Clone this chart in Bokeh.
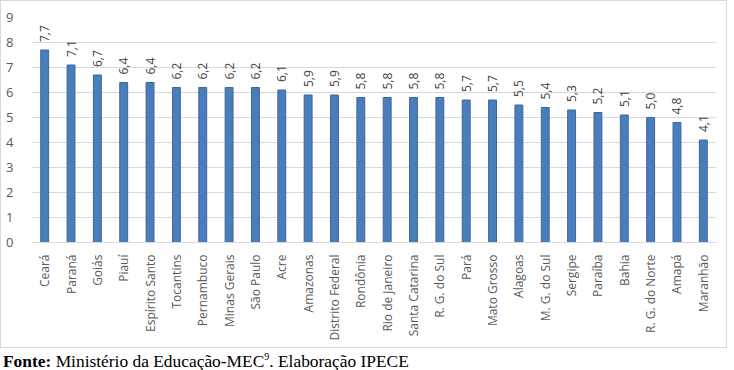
from math import pi
from bokeh.plotting import figure
from bokeh.models import ColumnDataSource, FixedTicker, Range1d, Div
from bokeh.layouts import column
from bokeh.embed import file_html
from bokeh.resources import INLINE

states = ["Ceará", "Paraná", "Goiás", "Piauí", "Espírito Santo", "Tocantins",
          "Pernambuco", "Minas Gerais", "São Paulo", "Acre", "Amazonas",
          "Distrito Federal", "Rondônia", "Rio de Janeiro", "Santa Catarina",
          "R. G. do Sul", "Pará", "Mato Grosso", "Alagoas", "M. G. do Sul",
          "Sergipe", "Paraíba", "Bahia", "R. G. do Norte", "Amapá", "Maranhão"]
values = [7.7, 7.1, 6.7, 6.4, 6.4, 6.2, 6.2, 6.2, 6.2, 6.1, 5.9, 5.9, 5.8, 5.8,
          5.8, 5.8, 5.7, 5.7, 5.5, 5.4, 5.3, 5.2, 5.1, 5.0, 4.8, 4.1]
y_ticks = [0, 1, 2, 3, 4, 5, 6, 7, 8, 9]

labels = [f"{v:.1f}".replace(".", ",") for v in values]
src = ColumnDataSource(dict(x=states, top=values, label=labels))

FONT = "Open Sans"

p = figure(x_range=states, y_range=Range1d(0, 9), width=727, height=348,
           output_backend="svg", toolbar_location=None,
           min_border_left=30, min_border_right=12, min_border_top=16,
           min_border_bottom=107)
p.styles = {"border": "1px solid #d9d9d9", "box-sizing": "border-box"}
p.outline_line_color = None
p.background_fill_color = "white"

p.vbar(x="x", top="top", width=0.3, source=src,
       fill_color="#4A7EBB", line_color="#3B67A0", line_width=1)

p.text(x="x", y="top", text="label", source=src, angle=pi / 2,
       text_align="left", text_baseline="middle", y_offset=-8,
       text_font_size="12px", text_color="#404040",
       text_font={"value": FONT})

p.yaxis.ticker = FixedTicker(ticks=y_ticks)
p.yaxis.axis_line_color = None
p.yaxis.major_tick_line_color = None
p.yaxis.minor_tick_line_color = None
p.yaxis.major_label_text_font = FONT
p.yaxis.major_label_text_font_size = "13px"
p.yaxis.major_label_text_color = "#595959"
p.yaxis.major_label_standoff = 12

p.xaxis.axis_line_color = "#d9d9d9"
p.xaxis.major_tick_line_color = None
p.xaxis.minor_tick_line_color = None
p.xaxis.major_label_orientation = pi / 2
p.xaxis.major_label_text_font = FONT
p.xaxis.major_label_text_font_size = "12px"
p.xaxis.major_label_text_color = "#595959"
p.xaxis.major_label_standoff = 6

p.xgrid.grid_line_color = None
p.ygrid.grid_line_color = "#d9d9d9"

footer = Div(text='<b>Fonte:</b> Ministério da Educação-MEC<sup style="font-size:10px">9</sup>. Elaboração IPECE',
             width=727, height=22,
             styles={"font-family": "'Liberation Serif', 'Times New Roman', serif",
                     "font-size": "17.4px", "color": "#000000",
                     "margin-left": "3px", "margin-top": "1px"})

layout = column(p, footer, spacing=0)
open("out.html", "w").write(file_html(layout, INLINE))
